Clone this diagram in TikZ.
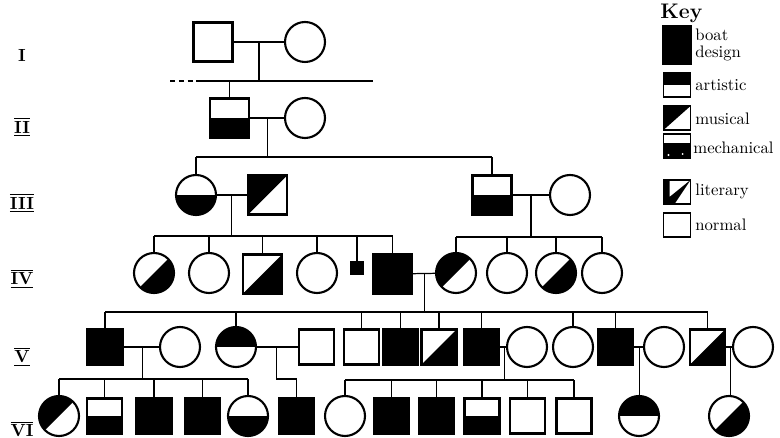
\documentclass[tikz,border=0pt]{standalone}
\usetikzlibrary{calc}
\newcommand{\genbar}[1]{$\overline{\underline{\hbox{#1}}}$}
\begin{document}
\begin{tikzpicture}[x=0.02cm, y=-0.02cm, font=\fontsize{9.5}{11.5}\selectfont,
  male/.style={rectangle, draw, line width=1.2pt, minimum size=0.78cm, inner sep=0pt},
  vmale/.style={male, minimum size=0.7cm},
  female/.style={circle, draw, line width=1.2pt, minimum size=0.8cm, inner sep=0pt},
  boat/.style={fill=black},
  artlow/.style={path picture={\fill (path picture bounding box.south west) rectangle (path picture bounding box.east);}},
  arthigh/.style={path picture={\fill (path picture bounding box.north west) rectangle (path picture bounding box.east);}},
  musup/.style={path picture={\fill (path picture bounding box.south west) -- (path picture bounding box.north west) -- (path picture bounding box.north east) -- cycle;}},
  muslow/.style={path picture={\fill (path picture bounding box.south west) -- (path picture bounding box.south east) -- (path picture bounding box.north east) -- cycle;}},
  mech/.style={path picture={\fill ($(path picture bounding box.south west)!0.62!(path picture bounding box.north west)$) rectangle (path picture bounding box.south east);
    \fill[white] ($(path picture bounding box.south west)+(5,-3)$) circle (1.2);
    \fill[white] ($(path picture bounding box.south east)+(-8,-4)$) circle (1);}},
  lit/.style={path picture={\fill (path picture bounding box.south west) -- (path picture bounding box.north west) -- ($(path picture bounding box.north west)+(6,0)$) -- ($(path picture bounding box.south west)+(6,-7)$) -- (path picture bounding box.north east) -- ($(path picture bounding box.south west)+(11,0)$) -- cycle;}},
  keybox/.style={rectangle, draw, line width=1pt, minimum width=0.54cm, minimum height=0.48cm, inner sep=0pt},
  keytext/.style={anchor=west, inner sep=0pt, align=left},
  gen/.style={font=\fontsize{10}{12}\selectfont\bfseries},
  link/.style={line width=0.7pt}]
  \useasboundingbox (0,0) rectangle (780,438);
  % Generation labels
  \node[gen] (gi)   at (22,55)  {I};
  \node[gen] (gii)  at (22,127) {\genbar{II}};
  \node[gen] (giii) at (22,203) {\genbar{III}};
  \node[gen] (giv)  at (22,279) {\genbar{IV}};
  \node[gen] (gv)   at (22,357) {\genbar{V}};
  \node[gen] (gvi)  at (22,431) {\genbar{VI}};
  % Generation I
  \node[male]   (i1) at (213,42) {};
  \node[female] (i2) at (305,42) {};
  % Generation II
  \node[male, artlow] (ii1) at (229.5,118) {};
  \node[female]       (ii2) at (305,118) {};
  % Generation III
  \node[female, artlow] (iii1) at (196,195) {};
  \node[male, musup]    (iii2) at (267.5,195) {};
  \node[male, artlow]   (iii3) at (492,195) {};
  \node[female]         (iii4) at (570,195) {};
  % Generation IV
  \node[female, muslow] (iv1)  at (154,273) {};
  \node[female]         (iv2)  at (209,273) {};
  \node[male, muslow]   (iv3)  at (262.5,274) {};
  \node[female]         (iv4)  at (317,273) {};
  \node[male, boat, minimum size=0.24cm, line width=0.6pt] (iv5) at (357,268) {};
  \node[male, boat]     (iv6)  at (392.5,274) {};
  \node[female, musup]  (iv7)  at (456,273) {};
  \node[female]         (iv8)  at (507,273) {};
  \node[female, muslow] (iv9)  at (556,273) {};
  \node[female]         (iv10) at (602,273) {};
  % Generation V
  \node[vmale, boat]     (v1)  at (105,347) {};
  \node[female]          (v2)  at (180,347) {};
  \node[female, arthigh] (v3)  at (236,347) {};
  \node[vmale]           (v4)  at (316.5,347) {};
  \node[vmale]           (v5)  at (361.5,347) {};
  \node[vmale, boat]     (v6)  at (400.5,347) {};
  \node[vmale, muslow]   (v7)  at (439,347) {};
  \node[vmale, boat]     (v8)  at (481.5,347) {};
  \node[female]          (v9)  at (527,347) {};
  \node[female]          (v10) at (573,347) {};
  \node[vmale, boat]     (v11) at (615.5,347) {};
  \node[female]          (v12) at (664,347) {};
  \node[vmale, muslow]   (v13) at (707.5,347) {};
  \node[female]          (v14) at (753,347) {};
  % Generation VI
  \node[female, musup]   (vi1)  at (59,416) {};
  \node[vmale, artlow]   (vi2)  at (104.5,416) {};
  \node[vmale, boat]     (vi3)  at (154,416) {};
  \node[vmale, boat]     (vi4)  at (202.5,416) {};
  \node[female, artlow]  (vi5)  at (248,416) {};
  \node[vmale, boat]     (vi6)  at (296.5,416) {};
  \node[female]          (vi7)  at (345,416) {};
  \node[vmale, boat]     (vi8)  at (391.5,416) {};
  \node[vmale, boat]     (vi9)  at (436.5,416) {};
  \node[vmale, artlow]   (vi10) at (482,416) {};
  \node[vmale]           (vi11) at (527.5,416) {};
  \node[vmale]           (vi12) at (574,416) {};
  \node[female, arthigh] (vi13) at (639,416) {};
  \node[female, muslow]  (vi14) at (729,416) {};
  % Marriages
  \draw[link] (i1) -- (i2);
  \draw[link] (ii1) -- (ii2);
  \draw[link] (iii1) -- (iii2);
  \draw[link] (iii3) -- (iii4);
  \draw[link] (iv6) -- (iv7);
  \draw[link] (v1) -- (v2);
  \draw[link] (v3) -- (v4);
  \draw[link] (v8) -- (v9);
  \draw[link] (v11) -- (v12);
  \draw[link] (v13) -- (v14);
  \coordinate (m1) at ($(i1)!0.5!(i2)$);
  \coordinate (m2) at ($(ii1)!0.5!(ii2)$);
  \coordinate (m3) at ($(iii1)!0.5!(iii2)$);
  \coordinate (m4) at ($(iii3)!0.5!(iii4)$);
  \coordinate (m5) at ($(iv6)!0.5!(iv7)$);
  \coordinate (m6) at ($(v1)!0.5!(v2)$);
  \coordinate (m7) at ($(v3)!0.5!(v4)$);
  \coordinate (m8) at ($(v8)!0.5!(v9)$);
  \coordinate (m9) at ($(v11)!0.5!(v12)$);
  \coordinate (m10) at ($(v13)!0.5!(v14)$);
  % Sibship lines
  \coordinate (s1d) at (170,81);
  \coordinate (s1l) at (197,81);
  \coordinate (s1r) at (373,81);
  \draw[link] (m1) -- (m1 |- s1l);
  \draw[link, densely dashed] (s1d) -- (s1l);
  \draw[link] (s1l) -- (s1r);
  \draw[link] (ii1) -- (ii1 |- s1l);
  \coordinate (s2l) at (196,157);
  \coordinate (s2r) at (492,157);
  \draw[link] (m2) -- (m2 |- s2l);
  \draw[link] (s2l) -- (s2r);
  \foreach \c in {iii1, iii3} \draw[link] (\c) -- (\c |- s2l);
  \coordinate (s3l) at (154,236);
  \coordinate (s3r) at (392.5,236);
  \draw[link] (m3) -- (m3 |- s3l);
  \draw[link] (s3l) -- (s3r);
  \foreach \c in {iv1, iv2, iv3, iv4, iv5, iv6} \draw[link] (\c) -- (\c |- s3l);
  \coordinate (s4l) at (456,237);
  \coordinate (s4r) at (602,237);
  \draw[link] (m4) -- (m4 |- s4l);
  \draw[link] (s4l) -- (s4r);
  \foreach \c in {iv7, iv8, iv9, iv10} \draw[link] (\c) -- (\c |- s4l);
  \coordinate (s5l) at (105,312);
  \coordinate (s5r) at (707.5,312);
  \draw[link] (m5) -- (m5 |- s5l);
  \draw[link] (s5l) -- (s5r);
  \foreach \c in {v1, v3, v5, v6, v7, v8, v10, v11, v13} \draw[link] (\c) -- (\c |- s5l);
  \coordinate (s6l) at (59,379);
  \coordinate (s6r) at (248,379);
  \draw[link] (m6) -- (m6 |- s6l);
  \draw[link] (s6l) -- (s6r);
  \foreach \c in {vi1, vi2, vi3, vi4, vi5} \draw[link] (\c) -- (\c |- s6l);
  \draw[link] (m7) -- (m7 |- s6l) -| (vi6);
  \coordinate (s8l) at (345,380);
  \coordinate (s8r) at (574,380);
  \draw[link] (m8) -- (m8 |- s8l);
  \draw[link] (s8l) -- (s8r);
  \foreach \c in {vi7, vi8, vi9, vi10, vi11, vi12} \draw[link] (\c) -- (\c |- s8l);
  \draw[link] (m9) -- (m9 |- vi13.north);
  \draw[link] (m10) -- (m10 |- vi14.north);
  % Key
  \node[font=\large\bfseries, anchor=west, inner sep=0pt] (keyhead) at (660,13) {Key};
  \node[keybox, fill=black, minimum width=0.58cm, minimum height=0.76cm] (kboat) at (677,45) {};
  \node[keytext, font=\fontsize{9.5}{10}\selectfont] (lboat) at (695,45) {boat\\design};
  \node[keybox, arthigh] (kart) at (677,85) {};
  \node[keytext] (lart) at (695,85) {artistic};
  \node[keybox, musup] (kmus) at (677,118) {};
  \node[keytext] (lmus) at (695,119) {musical};
  \node[keybox, mech] (kmech) at (677,146) {};
  \node[keytext] (lmech) at (693,148) {mechanical};
  \node[keybox, lit] (klit) at (677,192) {};
  \node[keytext] (llit) at (695,191) {literary};
  \node[keybox] (knorm) at (677,225) {};
  \node[keytext] (lnorm) at (695,225) {normal};
\end{tikzpicture}
\end{document}
